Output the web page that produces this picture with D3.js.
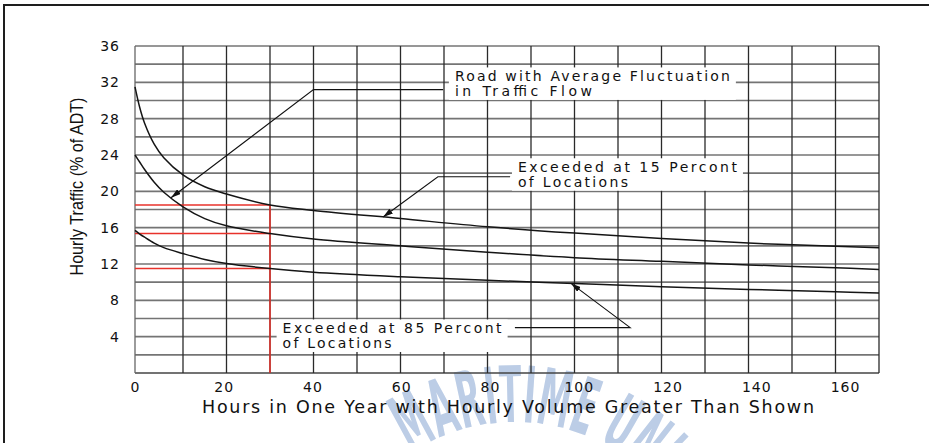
<!DOCTYPE html>
<html><head><meta charset="utf-8">
<script src="https://cdn.jsdelivr.net/npm/d3@7"></script>
<style>html,body{margin:0;padding:0;background:#fff;} svg{display:block;}</style>
</head><body><svg id="chart" width="929" height="443"></svg>
<script>
// ---------------- data ----------------
const hours       = [0, 1, 2, 4, 6, 10, 15, 20, 30, 40, 60, 80, 100, 120, 140, 160, 170];
const exceeded15  = [31.5, 29.2, 27.5, 25.2, 23.7, 21.8, 20.5, 19.7, 18.5, 17.9, 17.0, 16.1, 15.4, 14.8, 14.3, 13.95, 13.8];
const averageRoad = [24.0, 23.2, 22.4, 21.0, 19.9, 18.3, 17.0, 16.2, 15.35, 14.75, 14.0, 13.3, 12.7, 12.3, 11.9, 11.6, 11.4];
const exceeded85  = [15.7, 15.3, 14.95, 14.3, 13.8, 13.15, 12.5, 12.05, 11.5, 11.1, 10.6, 10.2, 9.85, 9.5, 9.2, 8.95, 8.8];
const xTickLabels = [0, 20, 40, 60, 80, 100, 120, 140, 160];
const yTickLabels = [4, 8, 12, 16, 20, 24, 28, 32, 36];
const designHour  = 30;
const xTitle = "Hours in One Year with Hourly Volume Greater Than Shown";
const yTitle = "Hourly Traffic (% of ADT)";
const noteTexts = [
  ["Road with Average Fluctuation", "in Traffic Flow"],
  ["Exceeded at 15 Percont", "of Locations"],
  ["Exceeded at 85 Percont", "of Locations"]
];
const watermark = "MARITIME UNIVERSITY";

// ---------------- drawing ----------------
const W = 929, H = 443;
const svg = d3.select("#chart");
const x = d3.scaleLinear().domain([0, 10, 170]).range([135, 183, 879]);
const xLab = d3.scaleLinear().domain([0, 160]).range([135, 845]);
const y = d3.scaleLinear().domain([0, 36]).range([373, 46]);

// page frame
svg.append("path").attr("d", "M4,443V5H929").attr("fill", "none")
  .attr("stroke", "#1e1e1e").attr("stroke-width", 2);

// watermark (arced, light blue) - only letters that reach into the picture
(function () {
  const g = svg.append("g").attr("fill", "#bccde6")
    .attr("font-family", "DejaVu Sans").attr("font-weight", "bold").attr("font-size", 78);
  const sx = 0.42, cx = 515, cy = 612, rb = 190, cap = 57;
  const letters = watermark.split("");
  const widths = letters.map(ch => {
    const t = g.append("text").text(ch === " " ? "\u00a0" : ch);
    const w = t.node().getComputedTextLength() * sx;
    t.remove();
    return w;
  });
  const w8 = d3.sum(widths.slice(0, 8));
  let a = (-5.5 * Math.PI / 180) - (w8 / 2) / rb;
  letters.forEach((ch, i) => {
    const th = a + (widths[i] / 2) / rb;
    a += widths[i] / rb;
    if (ch === " ") return;
    const topY = cy - (rb + cap) * Math.cos(th);
    if (topY > H - 6) return;
    g.append("text").attr("text-anchor", "middle")
      .attr("transform", `translate(${cx + rb * Math.sin(th)},${cy - rb * Math.cos(th)}) rotate(${th * 180 / Math.PI}) scale(${sx},1)`)
      .text(ch);
  });
})();

// grid
const grid = svg.append("g");
grid.selectAll("line.h").data(d3.range(0, 37, 2)).join("line").attr("class", "h")
  .attr("x1", x(0)).attr("x2", x(170)).attr("y1", d => y(d)).attr("y2", d => y(d))
  .attr("stroke", d => d === 0 ? "#444" : "#747474").attr("stroke-width", 1.6);
grid.selectAll("line.v").data(d3.range(0, 171, 10)).join("line").attr("class", "v")
  .attr("x1", d => x(d)).attr("x2", d => x(d)).attr("y1", y(0)).attr("y2", y(36))
  .attr("stroke", d => d === 0 ? "#666" : "#2a2a2a").attr("stroke-width", 1.3);

// design-hour red lines
const series = [exceeded15, averageRoad, exceeded85];
const di = hours.indexOf(designHour);
const red = svg.append("g").attr("stroke", "#e8322b").attr("stroke-width", 1.5);
red.selectAll("line.rh").data(series.map(s => s[di])).join("line").attr("class", "rh")
  .attr("x1", x(0)).attr("x2", x(designHour)).attr("y1", d => y(d)).attr("y2", d => y(d));
red.append("line").attr("x1", x(designHour)).attr("x2", x(designHour))
  .attr("y1", y(0)).attr("y2", y(d3.max(series, s => s[di])));

// curves
const line = d3.line().x((d, i) => x(hours[i])).y(d => y(d)).curve(d3.curveCatmullRom.alpha(0.5));
svg.append("g").selectAll("path").data(series).join("path")
  .attr("d", line).attr("fill", "none").attr("stroke", "#151515").attr("stroke-width", 1.5);

// axes labels
const yAxis = svg.append("g").attr("transform", "translate(120,0)")
  .call(d3.axisLeft(y).tickValues(yTickLabels).tickSize(0).tickPadding(0));
const xAxis = svg.append("g").attr("transform", "translate(0,382.5)")
  .call(d3.axisBottom(xLab).tickValues(xTickLabels).tickSize(0).tickPadding(0));
[yAxis, xAxis].forEach(a => {
  a.select(".domain").remove();
  a.selectAll("text").attr("font-family", "DejaVu Sans").attr("font-size", 14)
    .attr("fill", "#111").attr("letter-spacing", 1);
});

svg.append("text").attr("x", 508).attr("y", 413.3).attr("text-anchor", "middle")
  .attr("font-family", "DejaVu Sans").attr("font-size", 17.5).attr("fill", "#111")
  .attr("textLength", 612).attr("lengthAdjust", "spacing").text(xTitle);
svg.append("text").attr("transform", "translate(83,186.5) rotate(-90)").attr("text-anchor", "middle")
  .attr("font-family", "Liberation Sans").attr("font-size", 18).attr("fill", "#111")
  .attr("textLength", 178).attr("lengthAdjust", "spacingAndGlyphs").text(yTitle);

// annotations
const notes = [
  { at: [72.5, 32.1], widths: [275, 137], start: [69.8, 31.2], elbow: [40, 31.2], tip: 7.5, s: 1 },
  { at: [87.0, 22.1], widths: [219, 110], start: [85.2, 21.6], elbow: [68.6, 21.6], tip: 56, s: 0 },
  { at: [32.9, 4.35], widths: [219, 109], start: [86.3, 5.0], elbow: [112.8, 5.0], tip: 99.2, s: 2 }
];
const defs = svg.append("defs");
defs.append("marker").attr("id", "ah").attr("viewBox", "0 0 10 6").attr("refX", 10).attr("refY", 3)
  .attr("markerWidth", 10).attr("markerHeight", 6).attr("markerUnits", "userSpaceOnUse")
  .attr("orient", "auto").append("path").attr("d", "M0,0L10,3L0,6z").attr("fill", "#111");

notes.forEach((n, k) => {
  const tx = x(n.at[0]), ty = y(n.at[1]);
  svg.append("rect").attr("x", tx - 6).attr("y", ty - 14)
    .attr("width", n.widths[0] + 12).attr("height", 32.5).attr("fill", "#fff");
  noteTexts[k].forEach((t, j) => {
    svg.append("text").attr("x", tx).attr("y", ty + j * 14.5)
      .attr("font-family", "DejaVu Sans").attr("font-size", 14).attr("fill", "#111")
      .attr("textLength", n.widths[j]).attr("lengthAdjust", "spacing").text(t);
  });
  const interp = d3.scaleLinear().domain(hours).range(series[n.s]);
  const pts = [n.start, n.elbow, [n.tip, interp(n.tip)]];
  svg.append("path").attr("d", d3.line().x(d => x(d[0])).y(d => y(d[1]))(pts))
    .attr("fill", "none").attr("stroke", "#111").attr("stroke-width", 1.1)
    .attr("marker-end", "url(#ah)");
});
</script>
</body></html>
